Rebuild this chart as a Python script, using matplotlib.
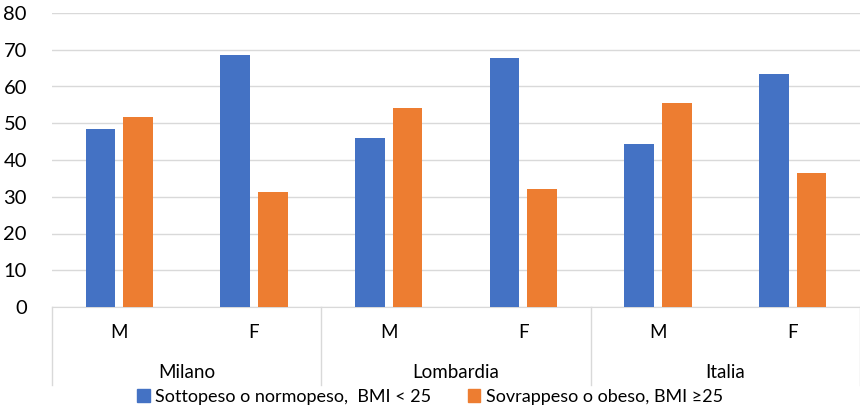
import matplotlib
matplotlib.use("Agg")
import matplotlib.pyplot as plt
import matplotlib.transforms as mtransforms
from matplotlib.patches import Patch
import numpy as np

groups = ["Milano", "Lombardia", "Italia"]
sexes = ["M", "F", "M", "F", "M", "F"]
normopeso = [48.4, 68.6, 45.9, 67.8, 44.4, 63.5]
sovrappeso = [51.6, 31.4, 54.1, 32.2, 55.6, 36.5]
labels = ["Sottopeso o normopeso,  BMI < 25", "Sovrappeso o obeso, BMI \u226525"]

BLUE = "#4472C4"
ORANGE = "#ED7D31"
GRID = "#d9d9d9"

plt.rcParams["font.family"] = ["Lato", "DejaVu Sans"]
plt.rcParams["font.size"] = 13.5

fig = plt.figure(figsize=(8.6, 4.12), dpi=100)
ax = fig.add_axes([52 / 860, 1 - 307 / 412, 808 / 860, 294 / 412])

x = np.arange(len(sexes))
w = 0.22
ax.bar(x - w / 2 - 0.03, normopeso, w, color=BLUE, zorder=3)
ax.bar(x + w / 2 + 0.03, sovrappeso, w, color=ORANGE, zorder=3)

ax.set_xlim(-0.5, len(sexes) - 0.5)
ax.set_ylim(0, 80)
ax.set_yticks(range(0, 81, 10))
ax.yaxis.grid(True, color=GRID, linewidth=1)
ax.set_axisbelow(True)
for s in ["top", "right", "left"]:
    ax.spines[s].set_visible(False)
ax.spines["bottom"].set_color(GRID)
ax.tick_params(axis="y", length=0, pad=18, labelsize=14.5)
ax.tick_params(axis="x", length=0)
ax.set_xticks([])

trans = mtransforms.blended_transform_factory(ax.transData, ax.transAxes)
px = 1 / 294  # one pixel in axes-y units

for i, s in enumerate(sexes):
    ax.text(i, -26 * px, s, transform=trans, ha="center", va="center")
for g, name in enumerate(groups):
    ax.text(2 * g + 0.5, -66 * px, name, transform=trans, ha="center", va="center")
for sep in [-0.5, 1.5, 3.5, 5.5]:
    ax.plot([sep, sep], [0, -78 * px], transform=trans, color=GRID, linewidth=1, clip_on=False)

handles = [Patch(color=BLUE), Patch(color=ORANGE)]
fig.legend(handles, labels, loc="center", bbox_to_anchor=(0.5, 1 - 397 / 412), ncol=2,
           frameon=False, handlelength=0.7, handleheight=0.7, handletextpad=0.3,
           columnspacing=2.0, fontsize=13)

fig.savefig("out.png", dpi=100)
